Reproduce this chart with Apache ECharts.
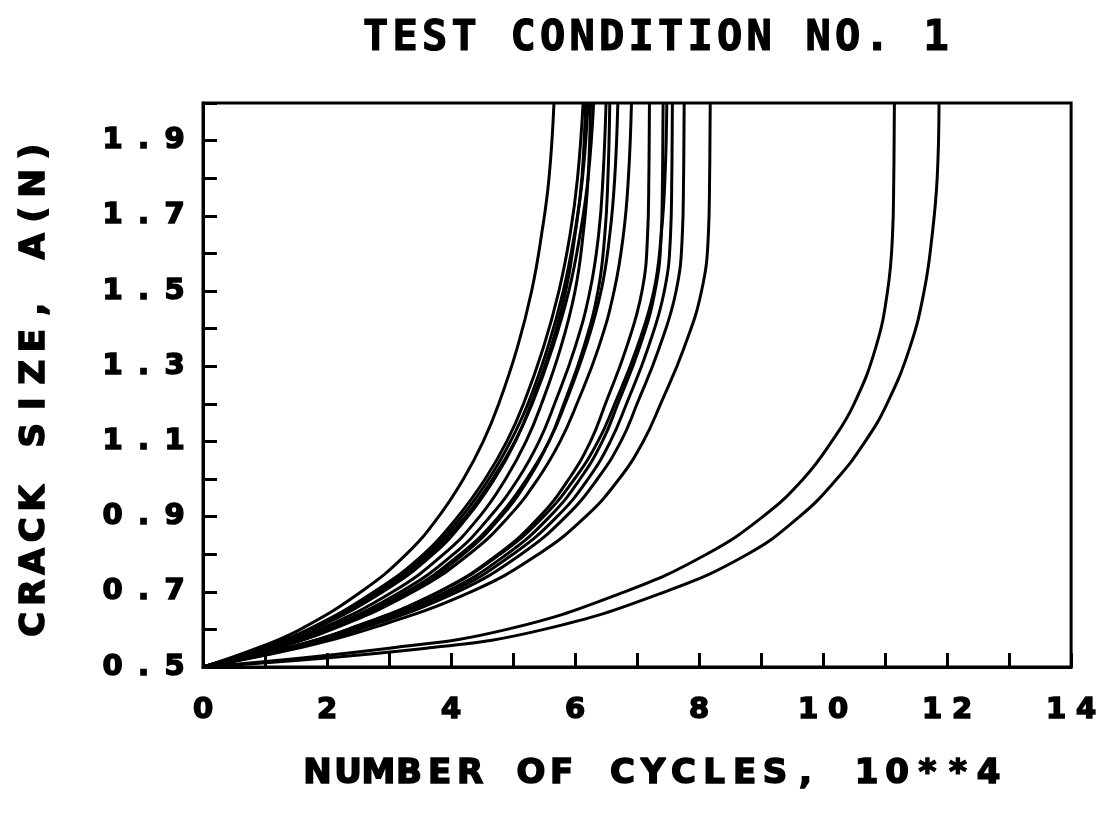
<!DOCTYPE html>
<html>
<head>
<meta charset="utf-8">
<script src="https://cdn.jsdelivr.net/npm/echarts@6/dist/echarts.min.js"></script>
<style>
  html, body { margin: 0; padding: 0; background: #fff; }
  #chart { width: 1100px; height: 818px; }
</style>
</head>
<body>
<div id="chart"></div>
<script>
// Crack size levels (shared by every specimen), in the same units as the y axis
const crackSize = [0.5, 0.55, 0.6, 0.7, 0.8, 0.9, 1.0, 1.1, 1.2, 1.35, 1.5, 1.65, 1.8, 2.0];

// Cycles (x 10^4) at which each specimen reaches the crack sizes above
const specimen01 = [0, 0.87, 1.57, 2.55, 3.28, 3.80, 4.20, 4.52, 4.77, 5.07, 5.30, 5.46, 5.58, 5.66];
const specimen02 = [0, 0.94, 1.70, 2.76, 3.56, 4.11, 4.55, 4.90, 5.17, 5.49, 5.74, 5.92, 6.04, 6.13];
const specimen03 = [0, 1.00, 1.78, 2.90, 3.71, 4.27, 4.70, 5.04, 5.29, 5.61, 5.85, 6.00, 6.11, 6.17];
const specimen04 = [0, 0.96, 1.72, 2.80, 3.60, 4.17, 4.61, 4.96, 5.24, 5.56, 5.81, 5.99, 6.12, 6.21];
const specimen05 = [0, 1.06, 1.88, 3.06, 3.88, 4.46, 4.88, 5.21, 5.46, 5.77, 6.00, 6.13, 6.21, 6.25];
const specimen06 = [0, 0.97, 1.75, 2.84, 3.65, 4.23, 4.67, 5.03, 5.31, 5.64, 5.90, 6.08, 6.21, 6.30];
const specimen07 = [0, 1.11, 1.96, 3.19, 4.04, 4.63, 5.08, 5.42, 5.67, 6.00, 6.24, 6.38, 6.45, 6.50];
const specimen08 = [0, 1.17, 2.05, 3.34, 4.20, 4.81, 5.25, 5.58, 5.82, 6.14, 6.37, 6.48, 6.53, 6.56];
const specimen09 = [0, 1.14, 2.01, 3.28, 4.15, 4.77, 5.22, 5.58, 5.84, 6.17, 6.42, 6.56, 6.64, 6.69];
const specimen10 = [0, 1.17, 2.08, 3.39, 4.29, 4.93, 5.40, 5.76, 6.03, 6.38, 6.63, 6.78, 6.86, 6.91];
const specimen11 = [0, 1.34, 2.34, 3.80, 4.76, 5.43, 5.90, 6.25, 6.49, 6.83, 7.08, 7.17, 7.19, 7.20];
const specimen12 = [0, 1.38, 2.41, 3.92, 4.90, 5.59, 6.08, 6.44, 6.69, 7.04, 7.29, 7.39, 7.41, 7.42];
const specimen13 = [0, 1.33, 2.34, 3.81, 4.79, 5.49, 5.99, 6.37, 6.64, 7.00, 7.27, 7.39, 7.45, 7.48];
const specimen14 = [0, 1.41, 2.46, 4.00, 5.00, 5.71, 6.21, 6.57, 6.83, 7.18, 7.44, 7.54, 7.56, 7.57];
const specimen15 = [0, 1.44, 2.52, 4.10, 5.13, 5.85, 6.36, 6.74, 7.00, 7.36, 7.63, 7.73, 7.75, 7.76];
const specimen16 = [0, 1.52, 2.66, 4.32, 5.41, 6.17, 6.71, 7.10, 7.38, 7.76, 8.04, 8.15, 8.17, 8.18];
const specimen17 = [0, 3.00, 4.90, 6.80, 8.12, 9.03, 9.68, 10.14, 10.50, 10.85, 11.04, 11.12, 11.14, 11.15];
const specimen18 = [0, 3.60, 5.50, 7.45, 8.78, 9.62, 10.22, 10.68, 11.03, 11.40, 11.63, 11.76, 11.84, 11.87];

const specimens = [
  specimen01, specimen02, specimen03, specimen04, specimen05, specimen06,
  specimen07, specimen08, specimen09, specimen10, specimen11, specimen12,
  specimen13, specimen14, specimen15, specimen16, specimen17, specimen18
];

// Axis tick labels
const xTickLabels = [0, 2, 4, 6, 8, 10, 12, 14];
const yTickLabels = [0.5, 0.7, 0.9, 1.1, 1.3, 1.5, 1.7, 1.9];

// Texts
const titleText = 'TEST CONDITION NO. 1';
const xAxisTitle = 'NUMBER OF CYCLES, 10**4';
const yAxisTitle = 'CRACK SIZE, A(N)';

// Spread a string into fixed-width character cells (plotter-style lettering)
function cells(str, key) {
  return str.split('').map(function (ch) { return '{' + key + '|' + ch + '}'; }).join('');
}

function fmtY(v) {
  const k = Math.round(v * 10);
  const hit = yTickLabels.some(function (t) { return Math.round(t * 10) === k; });
  return hit ? cells(v.toFixed(1), 'c') : '';
}
function fmtX(v) {
  const hit = xTickLabels.indexOf(Math.round(v)) >= 0 && Math.abs(v - Math.round(v)) < 1e-6;
  return hit ? cells(String(Math.round(v)), 'c') : '';
}

const INK = '#000';
const FONT = 'DejaVu Sans';

const series = specimens.map(function (row, idx) {
  return {
    name: 'S' + (idx + 1),
    type: 'line',
    data: crackSize.map(function (a, i) { return [row[i], a]; }),
    showSymbol: false,
    smooth: 0.45,
    lineStyle: { color: INK, width: 3 },
    emphasis: { disabled: true },
    silent: true,
    z: 3
  };
});

const labelCell = {
  align: 'center', fontFamily: FONT, fontWeight: 'bold', fontSize: 29, color: INK,
  textBorderColor: INK, textBorderWidth: 1.6
};

const chart = echarts.init(document.getElementById('chart'), null, { renderer: 'canvas' });
chart.setOption({
  animation: false,
  backgroundColor: '#fff',
  grid: {
    left: 203, right: 21, top: 103, bottom: 151,
    show: true, borderColor: INK, borderWidth: 3, backgroundColor: 'transparent'
  },
  xAxis: {
    type: 'value', min: 0, max: 14, interval: 1,
    axisLine: { show: true, lineStyle: { color: INK, width: 3 } },
    axisTick: { show: true, inside: true, length: 14, lineStyle: { color: INK, width: 3 } },
    splitLine: { show: false },
    axisLabel: {
      show: true, margin: 29, formatter: fmtX,
      rich: { c: Object.assign({ width: 30 }, labelCell) }
    }
  },
  yAxis: {
    type: 'value', min: 0.5, max: 2.0, interval: 0.1,
    axisLine: { show: true, lineStyle: { color: INK, width: 3 } },
    axisTick: { show: true, inside: true, length: 14, lineStyle: { color: INK, width: 3 } },
    splitLine: { show: false },
    axisLabel: {
      show: true, margin: 13, formatter: fmtY,
      rich: { c: Object.assign({ width: 31 }, labelCell) }
    }
  },
  graphic: [
    {
      type: 'text', x: 656, y: 39,
      style: {
        text: cells(titleText, 't'), align: 'center', verticalAlign: 'middle',
        rich: { t: { width: 29.5, align: 'center', fontFamily: 'DejaVu Sans Mono', fontWeight: 'bold', fontSize: 42, fill: INK, stroke: INK, lineWidth: 1.2 } }
      }
    },
    {
      type: 'text', x: 653, y: 774,
      style: {
        text: cells(xAxisTitle, 'n'), align: 'center', verticalAlign: 'middle',
        rich: { n: { width: 30.5, align: 'center', fontFamily: FONT, fontWeight: 'bold', fontSize: 34, fill: INK, stroke: INK, lineWidth: 1.6 } }
      }
    },
    {
      type: 'text', x: 35, y: 388, rotation: Math.PI / 2,
      style: {
        text: cells(yAxisTitle, 'n'), align: 'center', verticalAlign: 'middle',
        rich: { n: { width: 31.5, align: 'center', fontFamily: FONT, fontWeight: 'bold', fontSize: 34, fill: INK, stroke: INK, lineWidth: 1.6 } }
      }
    }
  ],
  series: series
});
</script>
</body>
</html>
